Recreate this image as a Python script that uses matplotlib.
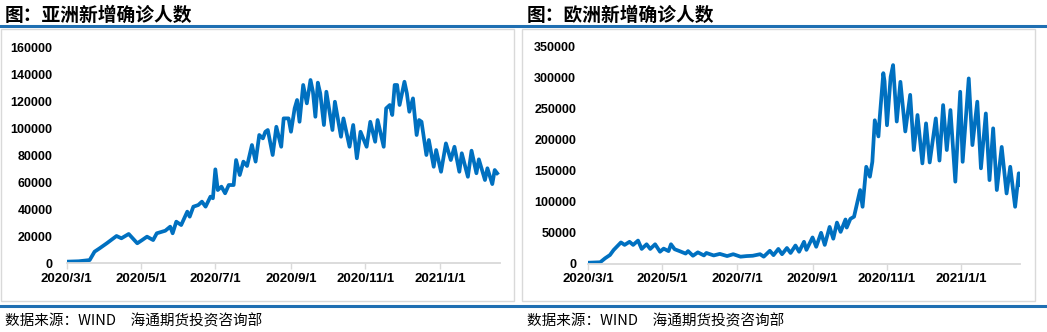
import matplotlib
matplotlib.use("Agg")
import matplotlib.pyplot as plt
import pandas as pd
from matplotlib.lines import Line2D
from matplotlib.patches import Rectangle

# days counted from 2020-03-01
asia_day = [0, 10, 19, 23, 27, 33, 41, 45, 51, 58, 62, 66, 71, 74, 81, 85, 87, 90, 94,
            99, 101, 104, 108, 111, 114, 118, 120, 122, 124, 127, 130, 133, 137, 139,
            142, 145, 148, 152, 155, 158, 161, 163, 165, 169, 172, 176, 178, 182, 184,
            187, 189, 191, 194, 197, 200, 202, 204, 206, 208, 211, 213, 218, 220, 225,
            227, 232, 235, 238, 241, 246, 249, 253, 255, 260, 262, 265, 267, 269, 271,
            273, 277, 279, 281, 284, 287, 289, 291, 295, 297, 301, 303, 307, 311, 315,
            318, 322, 324, 329, 332, 336, 338, 343, 345, 349, 351, 353]
asia_val = [1200, 1500, 2400, 8600, 11000, 14800, 20200, 18500, 21700, 14800, 17200,
            19700, 17200, 22200, 24100, 27100, 22200, 30800, 28300, 38200, 34500, 41900,
            43100, 45600, 41900, 49300, 48100, 69500, 54200, 56700, 51800, 57900, 57900,
            76400, 65300, 75200, 72000, 87500, 75200, 94900, 92400, 97300, 98600, 80100,
            101000, 86200, 107200, 107200, 97300, 114600, 120800, 104700, 131900, 118300,
            135600, 126900, 108400, 133600, 125700, 102300, 126900, 98600, 119500, 93600,
            107200, 86200, 102300, 77700, 97300, 86200, 104700, 89900, 106000, 86200,
            114600, 117100, 109700, 131900, 131900, 117100, 134300, 125700, 112100,
            122000, 94900, 106000, 104700, 80100, 91200, 71400, 83800, 67700, 88700,
            76400, 86200, 67700, 81400, 64000, 83300, 66600, 76900, 61600, 70300, 58600,
            69000, 66600]

eu_day = [1, 10, 14, 18, 21, 27, 30, 34, 37, 41, 44, 48, 51, 55, 59, 62, 66, 68, 71, 75,
          80, 82, 86, 90, 95, 97, 103, 108, 114, 119, 125, 130, 135, 141, 144, 149, 152,
          156, 159, 163, 166, 170, 173, 177, 179, 184, 187, 191, 194, 198, 201, 204, 207,
          211, 212, 215, 218, 223, 225, 228, 231, 233, 235, 238, 239, 242, 243, 245, 248,
          250, 253, 256, 260, 264, 267, 270, 274, 277, 280, 285, 288, 291, 294, 297, 301,
          305, 307, 312, 315, 319, 322, 326, 329, 332, 335, 339, 343, 346, 350, 353, 354]
eu_val = [1300, 2000, 8400, 13700, 21800, 34000, 30000, 35000, 30000, 37000, 23500,
          31000, 23500, 31000, 19000, 24000, 20000, 31000, 23000, 20000, 16000, 20000,
          12500, 18000, 13000, 17000, 13000, 15500, 12000, 15000, 11000, 12000, 12500,
          15000, 11000, 20500, 13500, 23500, 15000, 25000, 17000, 29000, 19000, 35000,
          22000, 42000, 27000, 49500, 30000, 59000, 40000, 66000, 51000, 71000, 58000,
          72000, 75500, 118500, 91500, 156000, 140000, 164000, 231000, 205000, 234000,
          307000, 294000, 223000, 301000, 320000, 229000, 293000, 213000, 272000, 183000,
          239500, 161500, 226000, 163000, 234000, 166000, 255500, 183000, 247500, 132000,
          277000, 164000, 298500, 191000, 261000, 153500, 242000, 134500, 218000, 118500,
          188000, 113000, 156000, 91500, 145500, 126500]

tick_dates = ["2020-03-01", "2020-05-01", "2020-07-01", "2020-09-01", "2020-11-01", "2021-01-01"]
tick_labels = ["2020/3/1", "2020/5/1", "2020/7/1", "2020/9/1", "2020/11/1", "2021/1/1"]

CJK = ["Noto Sans CJK SC", "DejaVu Sans"]
W, H = 1047, 332
LINE = "#0070c0"
GRAY = "#d9d9d9"
BAR = "#1f6fb2"

start = pd.Timestamp("2020-03-01")


def px(x0, y0, x1, y1):
    return [x0 / W, 1 - y1 / H, (x1 - x0) / W, (y1 - y0) / H]


def panel(rect, days, vals, ymax, ystep, end_day, pad):
    ax = fig.add_axes(rect)
    dates = start + pd.to_timedelta(days, unit="D")
    ax.plot(dates, vals, color=LINE, lw=2.7, solid_joinstyle="round")
    ax.set_xlim(start, start + pd.Timedelta(days=end_day))
    ax.set_ylim(0, ymax)
    ax.set_yticks(range(0, ymax + 1, ystep))
    ax.set_yticklabels([str(v) for v in range(0, ymax + 1, ystep)])
    ax.set_xticks(pd.to_datetime(tick_dates))
    ax.set_xticklabels(tick_labels)
    for s in ["top", "right", "left"]:
        ax.spines[s].set_visible(False)
    ax.spines["bottom"].set_color(GRAY)
    ax.spines["bottom"].set_linewidth(1.3)
    ax.tick_params(axis="y", length=0, pad=pad)
    ax.tick_params(axis="x", length=4, width=1, color=GRAY, pad=3)
    for lab in ax.get_yticklabels():
        lab.set_fontfamily("Liberation Sans")
        lab.set_fontweight("bold")
        lab.set_fontsize(9)
    for lab in ax.get_xticklabels():
        lab.set_fontfamily("Liberation Sans")
        lab.set_fontweight("bold")
        lab.set_fontsize(9.5)
    ax.patch.set_alpha(0)
    return ax


fig = plt.figure(figsize=(W / 100, H / 100), dpi=100)

# panel frames
for x0, x1 in [(1, 514), (522, 1035)]:
    fig.add_artist(Rectangle((x0 / W, 1 - 301 / H), (x1 - x0) / W, 272 / H,
                             transform=fig.transFigure, fill=False, ec=GRAY, lw=1))

panel(px(66.5, 47, 499.6, 263.3), asia_day, asia_val, 160000, 20000, 355, 10)
panel(px(588, 46.5, 1020, 263.5), eu_day, eu_val, 350000, 50000, 354, 8.5)

# blue rules
fig.add_artist(Line2D([0, 1], [1 - 26 / H] * 2, color=BAR, lw=2.2))
fig.add_artist(Line2D([0, 1], [1 - 305.5 / H] * 2, color=BAR, lw=2.2))

fig.text(5 / W, 1 - 15.5 / H, "图：亚洲新增确诊人数", family=CJK, fontsize=13.5,
         fontweight="bold", va="center")
fig.text(527 / W, 1 - 15.5 / H, "图：欧洲新增确诊人数", family=CJK, fontsize=13.5,
         fontweight="bold", va="center")
src = "数据来源：WIND　海通期货投资咨询部"
fig.text(5 / W, 1 - 321 / H, src, family=CJK, fontsize=10.5, va="center")
fig.text(527 / W, 1 - 321 / H, src, family=CJK, fontsize=10.5, va="center")

fig.savefig("out.png", dpi=100)
